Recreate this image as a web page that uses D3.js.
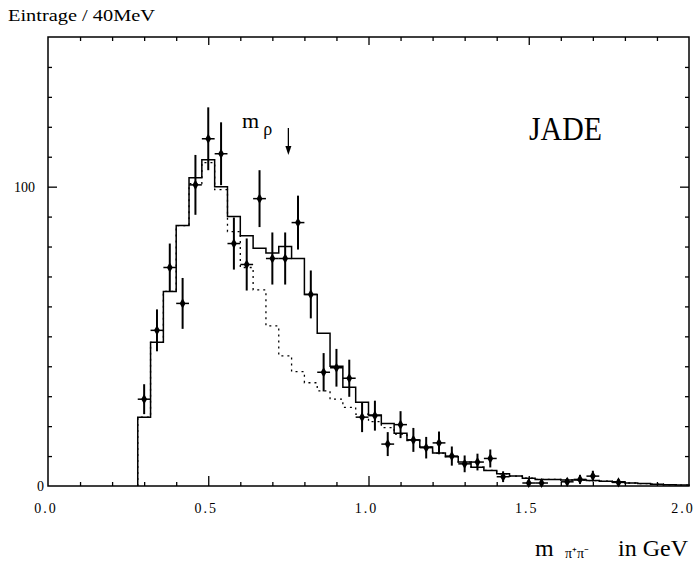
<!DOCTYPE html>
<html>
<head>
<meta charset="utf-8">
<script src="https://cdn.jsdelivr.net/npm/d3@7"></script>
<style>
  html, body { margin: 0; padding: 0; background: #fff; }
  svg { display: block; }
  text { fill: #000; }
</style>
</head>
<body>
<svg id="chart" width="696" height="561"></svg>
<script>
// Lower edges of the 40 MeV mass bins (GeV)
const binLow = [0.28, 0.32, 0.36, 0.40, 0.44, 0.48, 0.52, 0.56, 0.60, 0.64,
                0.68, 0.72, 0.76, 0.80, 0.84, 0.88, 0.92, 0.96, 1.00, 1.04,
                1.08, 1.12, 1.16, 1.20, 1.24, 1.28, 1.32, 1.36, 1.40, 1.44,
                1.48, 1.52, 1.56, 1.60, 1.64, 1.68, 1.72, 1.76, 1.80, 1.84,
                1.88, 1.92, 1.96];
const binWidth = 0.04;

// Full model (solid histogram), entries per bin
const modelFull = [23, 48, 65, 87, 103, 109, 100, 90, 83.6, 79.4,
                   77.8, 80, 76, 64, 51, 40, 33, 28, 23.7, 20.9,
                   17.6, 15.4, 13, 11, 9.8, 8, 6.3, 5.2, 4.1, 3.3,
                   2.6, 2.2, 2.2, 2.0, 2.0, 1.8, 1.6, 1.4, 1.0, 0.8,
                   0.6, 0.4, 0.3];

// Model without the rho contribution (dotted histogram)
const modelNoRho = [23, 48, 65, 87, 101, 108, 99, 85, 73, 65.5,
                    53.5, 43.5, 38.2, 34.5, 31.8, 29, 26.3, 24, 21.5, 19.5,
                    17.3, 15.2, 13, 11, 9.8, 8, 6.3, 5.2, 4.1, 3.3,
                    2.6, 2.2, 2.2, 2.0, 2.0, 1.8, 1.6, 1.4, 1.0, 0.8,
                    0.6, 0.4, 0.3];

// Measured data: bin centres, entries, statistical errors
const dataMass = [0.30, 0.34, 0.38, 0.42, 0.46, 0.50, 0.54, 0.58, 0.62, 0.66,
                  0.70, 0.74, 0.78, 0.82, 0.86, 0.90, 0.94, 0.98, 1.02, 1.06,
                  1.10, 1.14, 1.18, 1.22, 1.26, 1.30, 1.34, 1.38, 1.42, 1.50,
                  1.54, 1.62, 1.66, 1.70, 1.78];
const dataCount = [29, 52, 73, 61, 100.6, 116, 111, 81, 74, 96,
                   76, 76, 88, 64, 38, 39.5, 36, 23, 23.5, 14,
                   20.5, 15.4, 12.8, 14.4, 10, 7.4, 8, 9.2, 3.1, 1,
                   1, 1.4, 2.2, 3.3, 1.2];
const dataErr = [5, 7, 8, 8.5, 10, 10.5, 10.5, 8.7, 8.7, 9.5,
                 8.7, 8.7, 9, 8, 6.4, 6.3, 6.2, 5, 5, 4,
                 4.5, 4, 3.6, 3.8, 3.2, 2.8, 2.8, 3, 1.8, 1,
                 1, 1.2, 1.5, 1.8, 1.1];

// Axis tick labels
const xTickVals = [0.0, 0.5, 1.0, 1.5, 2.0];
const xTickText = ["0.0", "0.5", "1.0", "1.5", "2.0"];
const yTickVals = [0, 100];
const yTickText = ["0", "100"];

const svg = d3.select("#chart");
const plotL = 48, plotR = 689, plotT = 37, plotB = 486;

const x = d3.scaleLinear().domain([0, 2]).range([plotL, plotR]);
const y = d3.scaleLinear().domain([0, 150]).range([plotB, plotT]);

const serif = "'Liberation Serif', 'Times New Roman', serif";

// --- histograms -------------------------------------------------------
function stepPath(values) {
  const p = [[x(binLow[0]), y(0)]];
  values.forEach((v, i) => {
    p.push([x(binLow[i]), y(v)]);
    p.push([x(binLow[i] + binWidth), y(v)]);
  });
  p.push([x(binLow[binLow.length - 1] + binWidth), y(0)]);
  return d3.line()(p);
}

svg.append("path")
  .attr("d", stepPath(modelNoRho))
  .attr("fill", "none")
  .attr("stroke", "#000")
  .attr("stroke-width", 1.3)
  .attr("stroke-dasharray", "2,4");

svg.append("path")
  .attr("d", stepPath(modelFull))
  .attr("fill", "none")
  .attr("stroke", "#000")
  .attr("stroke-width", 1.5);

// --- data points with error bars -------------------------------------
const pts = svg.append("g").selectAll("g")
  .data(dataMass.map((m, i) => ({ m, n: dataCount[i], e: dataErr[i] })))
  .join("g");

pts.append("line")
  .attr("x1", d => x(d.m)).attr("x2", d => x(d.m))
  .attr("y1", d => y(Math.max(0, d.n - d.e))).attr("y2", d => y(d.n + d.e))
  .attr("stroke", "#000").attr("stroke-width", 2);

pts.append("line")
  .attr("x1", d => x(d.m - binWidth / 2)).attr("x2", d => x(d.m + binWidth / 2))
  .attr("y1", d => y(d.n)).attr("y2", d => y(d.n))
  .attr("stroke", "#000").attr("stroke-width", 1.5);

pts.append("path")
  .attr("d", d3.symbol(d3.symbolDiamond, 30))
  .attr("transform", d => `translate(${x(d.m)},${y(d.n)})`)
  .attr("fill", "#000");

// --- frame and ticks ---------------------------------------------------
svg.append("rect")
  .attr("x", plotL).attr("y", plotT)
  .attr("width", plotR - plotL).attr("height", plotB - plotT)
  .attr("fill", "none").attr("stroke", "#000").attr("stroke-width", 1.5);

const xMinor = [0.1, 0.2, 0.3, 0.4, 0.6, 0.7, 0.8, 0.9, 1.1, 1.2, 1.3, 1.4, 1.6, 1.7, 1.8, 1.9];
const xMajor = [0.5, 1.0, 1.5];
const yMinor = [10, 20, 30, 40, 50, 60, 70, 80, 90, 110, 120, 130, 140];

function tickAxis(axis, tr) {
  const g = svg.append("g").attr("transform", tr).call(axis);
  g.select(".domain").remove();
  g.selectAll("text").remove();
  g.selectAll("line").attr("stroke", "#000").attr("stroke-width", 1.3);
}

tickAxis(d3.axisBottom(x).tickValues(xMinor).tickSize(-4), `translate(0,${plotB})`);
tickAxis(d3.axisBottom(x).tickValues(xMajor).tickSize(-10), `translate(0,${plotB})`);
tickAxis(d3.axisTop(x).tickValues(xMinor).tickSize(-4), `translate(0,${plotT})`);
tickAxis(d3.axisTop(x).tickValues(xMajor).tickSize(-8), `translate(0,${plotT})`);
tickAxis(d3.axisLeft(y).tickValues(yMinor).tickSize(-4), `translate(${plotL},0)`);
tickAxis(d3.axisLeft(y).tickValues([100]).tickSize(-9), `translate(${plotL},0)`);
tickAxis(d3.axisRight(y).tickValues(yMinor).tickSize(-4), `translate(${plotR},0)`);
tickAxis(d3.axisRight(y).tickValues([100]).tickSize(-9), `translate(${plotR},0)`);

// --- tick labels -------------------------------------------------------
svg.append("g").selectAll("text")
  .data(xTickVals)
  .join("text")
  .attr("x", (d, i) => i === xTickVals.length - 1 ? x(d) - 6 : x(d) - 2)
  .attr("y", 513)
  .attr("text-anchor", "middle")
  .attr("font-family", serif)
  .attr("font-size", 14)
  .attr("letter-spacing", 2)
  .text((d, i) => xTickText[i]);

svg.append("g").selectAll("text")
  .data(yTickVals)
  .join("text")
  .attr("x", (d, i) => i === 0 ? 44 : 35)
  .attr("y", d => y(d) + 5)
  .attr("text-anchor", "end")
  .attr("font-family", serif)
  .attr("font-size", 14)
  .text((d, i) => yTickText[i]);

// --- titles and annotations --------------------------------------------
svg.append("text")
  .attr("x", 8).attr("y", 21)
  .attr("font-family", serif)
  .attr("font-size", 17)
  .attr("textLength", 147)
  .attr("lengthAdjust", "spacingAndGlyphs")
  .text("Eintrage / 40MeV");

svg.append("text")
  .attr("x", 529).attr("y", 140)
  .attr("font-family", serif)
  .attr("font-size", 34)
  .attr("textLength", 73)
  .attr("lengthAdjust", "spacingAndGlyphs")
  .text("JADE");

// m_rho label with arrow
const mrho = svg.append("text")
  .attr("x", 242).attr("y", 128)
  .attr("font-family", serif)
  .attr("font-size", 22);
mrho.append("tspan").text("m");
mrho.append("tspan").attr("dx", 4).attr("dy", 7).attr("font-size", 18).text("ρ");

const ax = x(0.75);
svg.append("line")
  .attr("x1", ax).attr("x2", ax)
  .attr("y1", 128).attr("y2", 152)
  .attr("stroke", "#000").attr("stroke-width", 1.3);
svg.append("path")
  .attr("d", `M${ax - 3},146 L${ax + 3},146 L${ax},155 Z`)
  .attr("fill", "#000");

// x-axis title
const xt = svg.append("text")
  .attr("y", 556)
  .attr("font-family", serif)
  .attr("font-size", 24);
xt.append("tspan").attr("x", 535).text("m");
xt.append("tspan").attr("x", 565).attr("dy", 2).attr("font-size", 14).text("π⁺π⁻");
xt.append("tspan").attr("x", 618).attr("dy", -2).text("in GeV");
</script>
</body>
</html>
